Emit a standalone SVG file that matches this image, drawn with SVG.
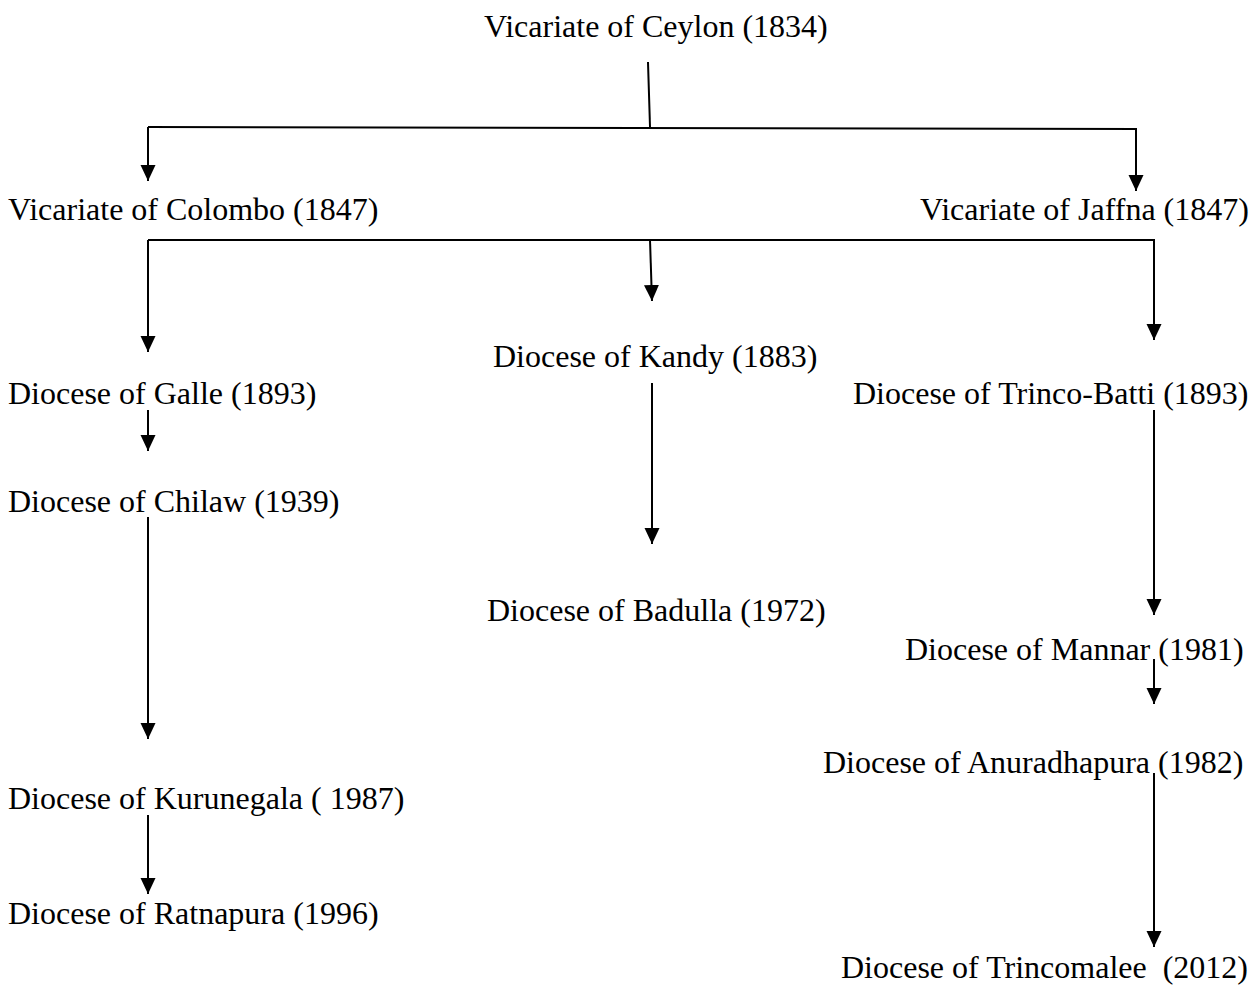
<svg xmlns="http://www.w3.org/2000/svg" width="1260" height="995" viewBox="0 0 1260 995">
  <style>
    .lbl { font-family: "Liberation Serif", "Times New Roman", serif; font-size: 32px; fill: #000; white-space: pre; }
    .ln { stroke: #000; stroke-width: 2; fill: none; }
    .ar { stroke: #000; stroke-width: 2; fill: none; marker-end: url(#ah); }
  </style>
  <defs>
    <marker id="ah" markerUnits="userSpaceOnUse" markerWidth="17" markerHeight="16" refX="16" refY="7.5" orient="auto">
      <path d="M0,0 L16,7.5 L0,15 z" fill="#000"/>
    </marker>
  </defs>
  <rect width="1260" height="995" fill="#fff"/>

  <g id="connectors">
    <line class="ln" x1="648" y1="62" x2="650" y2="127"/>
    <line class="ln" x1="148" y1="127" x2="1137" y2="129"/>
    <line class="ar" x1="148" y1="127" x2="148" y2="181"/>
    <line class="ar" x1="1136" y1="129" x2="1136" y2="191"/>

    <line class="ln" x1="148" y1="240" x2="1155" y2="240"/>
    <line class="ar" x1="148" y1="240" x2="148" y2="352"/>
    <line class="ar" x1="650" y1="240" x2="652" y2="301"/>
    <line class="ar" x1="1154" y1="240" x2="1154" y2="340"/>

    <line class="ar" x1="148" y1="410" x2="148" y2="451"/>
    <line class="ar" x1="148" y1="517" x2="148" y2="739"/>
    <line class="ar" x1="148" y1="815" x2="148" y2="894"/>

    <line class="ar" x1="652" y1="383" x2="652" y2="544"/>

    <line class="ar" x1="1154" y1="410" x2="1154" y2="615"/>
    <line class="ar" x1="1154" y1="659" x2="1154" y2="704"/>
    <line class="ar" x1="1154" y1="773" x2="1154" y2="947"/>
  </g>

  <g id="ceylon"><text class="lbl" x="484" y="37">Vicariate of Ceylon (1834)</text></g>
  <g id="colombo"><text class="lbl" x="8" y="220">Vicariate of Colombo (1847)</text></g>
  <g id="jaffna"><text class="lbl" x="920" y="220">Vicariate of Jaffna (1847)</text></g>
  <g id="galle"><text class="lbl" x="8" y="404">Diocese of Galle (1893)</text></g>
  <g id="kandy"><text class="lbl" x="493" y="367">Diocese of Kandy (1883)</text></g>
  <g id="trinco-batti"><text class="lbl" x="853" y="404">Diocese of Trinco-Batti (1893)</text></g>
  <g id="chilaw"><text class="lbl" x="8" y="512">Diocese of Chilaw (1939)</text></g>
  <g id="badulla"><text class="lbl" x="487" y="621">Diocese of Badulla (1972)</text></g>
  <g id="mannar"><text class="lbl" x="905" y="660">Diocese of Mannar (1981)</text></g>
  <g id="anuradhapura"><text class="lbl" x="823" y="773">Diocese of Anuradhapura (1982)</text></g>
  <g id="kurunegala"><text class="lbl" x="8" y="809">Diocese of Kurunegala ( 1987)</text></g>
  <g id="ratnapura"><text class="lbl" x="8" y="924">Diocese of Ratnapura (1996)</text></g>
  <g id="trincomalee"><text class="lbl" x="841" y="978">Diocese of Trincomalee  (2012)</text></g>
</svg>
